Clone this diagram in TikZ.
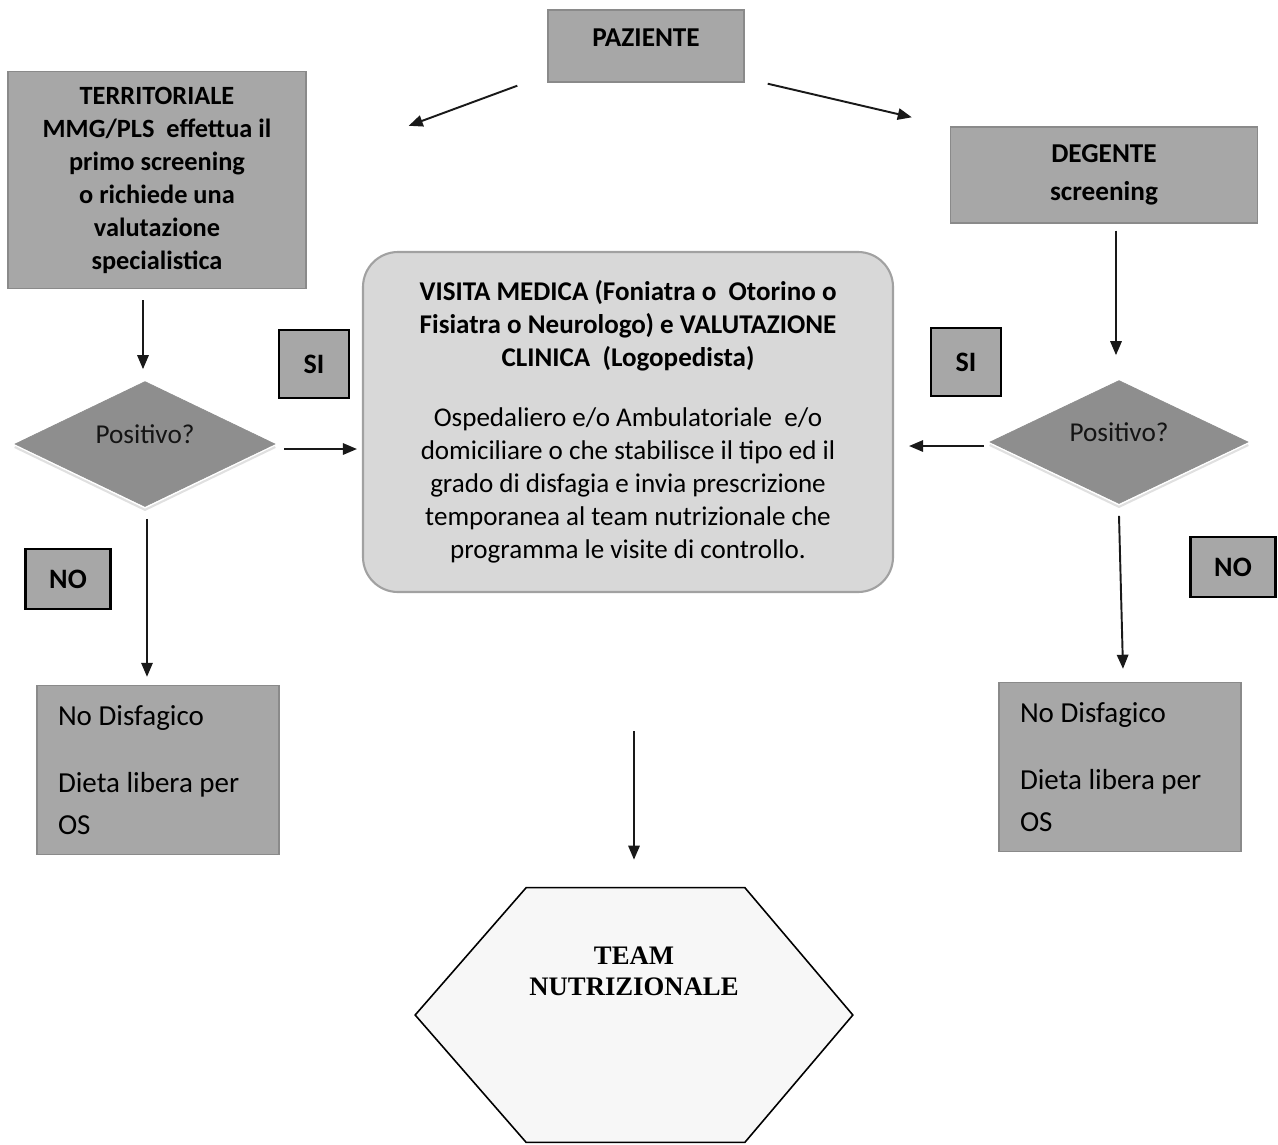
\documentclass[tikz,border=0pt]{standalone}
\usepackage{fontspec}
\setmainfont{Carlito}
\newfontfamily\timesf{Liberation Serif}
\usetikzlibrary{shapes.geometric,arrows.meta,calc}
\definecolor{boxgray}{HTML}{A7A7A7}
\definecolor{diagray}{HTML}{8E8E8E}
\definecolor{visgray}{HTML}{D8D8D8}
\definecolor{edgegray}{HTML}{8A8A8A}
\begin{document}
\begin{tikzpicture}[x=0.02cm,y=-0.02cm,
  gbox/.style={draw=edgegray, line width=0.8pt, fill=boxgray, rectangle, inner sep=0pt, align=center,
    font=\fontsize{15}{18.8}\selectfont\bfseries},
  lbox/.style={draw=black, line width=1.4pt, fill=boxgray, rectangle, inner sep=0pt,
    font=\fontsize{16}{18}\selectfont\bfseries},
  dia/.style={diamond, draw=diagray, fill=diagray, inner sep=0pt, aspect=2, text depth=11pt,
    font=\fontsize{15.5}{18}\selectfont, text=black!92},
  diashade/.style={draw=white!88!black, line width=1.2pt},
  resbox/.style={draw=edgegray, line width=0.8pt, fill=boxgray, rectangle, inner xsep=0.42cm, inner ysep=0pt,
    align=flush left, font=\fontsize{16.5}{24}\selectfont},
  visbox/.style={draw=edgegray!80, line width=1.2pt, fill=visgray, rounded corners=0.7cm, inner sep=0pt,
    align=center, font=\fontsize{15.4}{18.8}\selectfont},
  hexaframe/.style={rectangle, draw=none, inner sep=0pt},
  hexline/.style={draw=black, line width=0.9pt, fill=black!3},
  teamtxt/.style={align=center, font=\timesf\fontsize{15.2}{17.6}\selectfont\bfseries, inner sep=0pt},
  arr/.style={draw=black!90, line width=1.1pt, -{Triangle[length=8pt,width=6.5pt]}}
]
\useasboundingbox (0,0) rectangle (1278,1144);

% nodes
\node[gbox, minimum width=196*0.02cm, minimum height=72*0.02cm, text depth=10pt, font=\fontsize{15.5}{18.8}\selectfont\bfseries] (paz) at (646,46) {PAZIENTE};
\node[gbox, minimum width=298*0.02cm, minimum height=217*0.02cm] (terr) at (157,180)
  {TERRITORIALE\\MMG/PLS\ \ effettua il\\primo screening\\o richiede una\\valutazione\\specialistica};
\node[gbox, minimum width=307*0.02cm, minimum height=96*0.02cm, font=\fontsize{15.5}{21.5}\selectfont\bfseries] (deg) at (1104,175)
  {DEGENTE\\screening};

\node[dia, minimum width=260*0.02cm, minimum height=125*0.02cm] (dl) at (145,444) {Positivo?};
\node[dia, minimum width=258*0.02cm, minimum height=123*0.02cm] (dr) at (1119,442) {Positivo?};
\draw[diashade] ($(dl.west)+(0,3)$) -- ($(dl.south)+(0,3)$) -- ($(dl.east)+(0,3)$);
\draw[diashade] ($(dr.west)+(0,3)$) -- ($(dr.south)+(0,3)$) -- ($(dr.east)+(0,3)$);

\node[lbox, minimum width=70*0.02cm, minimum height=68*0.02cm] (sil) at (314,364) {SI};
\node[lbox, minimum width=70*0.02cm, minimum height=68*0.02cm] (sir) at (966,362) {SI};
\node[lbox, minimum width=85*0.02cm, minimum height=60*0.02cm] (nol) at (68,579) {NO};
\node[lbox, minimum width=85*0.02cm, minimum height=60*0.02cm] (nor) at (1233,567) {NO};

\node[visbox, minimum width=530*0.02cm, minimum height=340*0.02cm] (visit) at (628,422)
  {\textbf{VISITA MEDICA (Foniatra o\ \ Otorino o}\\
   \textbf{Fisiatra o Neurologo) e VALUTAZIONE}\\
   \textbf{CLINICA\ \ (Logopedista)}\\[15.5pt]
   Ospedaliero e/o Ambulatoriale\ \ e/o\\
   domiciliare o che stabilisce il tipo ed il\\
   grado di disfagia e invia prescrizione\\
   temporanea al team nutrizionale che\\
   programma le visite di controllo.};

\node[resbox, minimum width=241*0.02cm, minimum height=169*0.02cm, text width=200*0.02cm] (ndl) at (158,770)
  {No Disfagico\\[14pt]Dieta libera per\\OS};
\node[resbox, minimum width=240*0.02cm, minimum height=169*0.02cm, text width=200*0.02cm] (ndr) at (1120,767)
  {No Disfagico\\[14pt]Dieta libera per\\OS};

\node[hexaframe, minimum width=437*0.02cm, minimum height=254*0.02cm] (team) at (634,1015) {};
\draw[hexline] ($(team.north west)+(111,0)$) -- ($(team.north east)+(-108,0)$) -- (team.east)
  -- ($(team.south east)+(-108,0)$) -- ($(team.south west)+(111,0)$) -- (team.west) -- cycle;
\node[teamtxt] (teamt) at (634,971) {TEAM\\NUTRIZIONALE};

% connectors
\draw[arr] ($(paz.south west)+(-30,3)$) -- ($(terr.north east)+(102,55)$);
\draw[arr] ($(paz.south east)+(23,1)$) -- ($(deg.north west)+(-38,-9)$);
\draw[arr] ($(terr.south)+(-14,11)$) -- ($(dl.north)+(-2,-12)$);
\draw[arr] ($(dl.east)+(9,5)$) -- ($(visit.west)+(-5,27)$);
\draw[arr] ($(dl.south)+(2,12)$) -- ($(ndl.north)+(-11,-8)$);
\draw[arr] ($(deg.south)+(12,7)$) -- ($(dr.north)+(-3,-25)$);
\draw[arr] ($(dr.west)+(-6,4)$) -- ($(visit.east)+(15,24)$);
\draw[arr] ($(dr.south)+(0,12)$) -- ($(ndr.north)+(3,-13)$);
\draw[arr] ($(visit.south)+(6,138)$) -- ($(team.north)+(0,-28)$);
\end{tikzpicture}
\end{document}
